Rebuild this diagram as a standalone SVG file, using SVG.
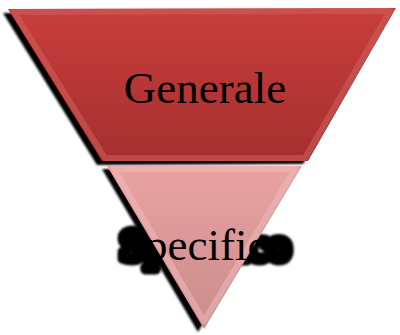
<svg xmlns="http://www.w3.org/2000/svg" width="400" height="335" viewBox="0 0 400 335">
<style>
.lbl{font-family:"Liberation Serif","DejaVu Serif",serif;font-size:45px;fill:#000;text-anchor:middle}
.glow{font-family:"Liberation Serif","DejaVu Serif",serif;font-size:45px;fill:#000;stroke:#000;stroke-width:11;stroke-linejoin:round;text-anchor:middle}
.sh{fill:#000}
.bev{fill:none;stroke-width:6;stroke-linejoin:round}
</style>
<defs>
<linearGradient id="gTop" x1="0" y1="0" x2="0" y2="1">
<stop offset="0" stop-color="#c83e3c"/>
<stop offset="1" stop-color="#a52f2e"/>
</linearGradient>
<linearGradient id="gTri" x1="0" y1="0" x2="0" y2="1">
<stop offset="0" stop-color="#eaa2a2"/>
<stop offset="1" stop-color="#c98c8c"/>
</linearGradient>
<filter id="blur" x="-10%" y="-10%" width="120%" height="120%"><feGaussianBlur stdDeviation="1"/></filter>
<filter id="gblur" x="-10%" y="-30%" width="120%" height="160%"><feGaussianBlur stdDeviation="1.2"/></filter>
</defs>
<g id="generale">
<polygon class="sh" filter="url(#blur)" points="3,13 391,11 303,164 97,165"/>
<polygon points="8,9 396,8 308,161 102,161" fill="url(#gTop)"/>
<polygon class="bev" stroke="#d0605c" stroke-opacity="0.55" points="14,12 390,11 305,158 105,158"/>
<text class="lbl" x="205" y="103">Generale</text>
</g>
<g id="specifico">
<text class="glow" filter="url(#gblur)" x="205" y="260">Specifico</text>
<polygon class="sh" filter="url(#blur)" points="102,169 296,169 198,332"/>
<polygon points="107,166 302,166 204,329" fill="url(#gTri)"/>
<polygon class="bev" stroke="#f2bcbc" stroke-opacity="0.5" points="114,169 295,169 204,321"/>
<text class="lbl" x="205" y="260">Specifico</text>
</g>
<g id="connectors"/>
</svg>
